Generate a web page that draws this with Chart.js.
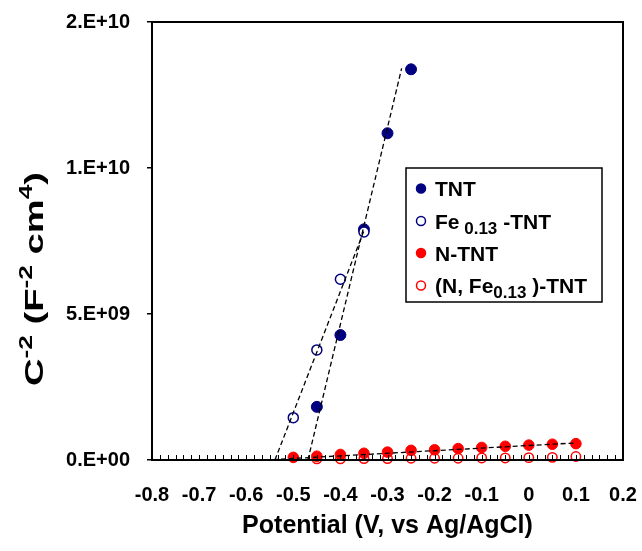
<!DOCTYPE html>
<html>
<head>
<meta charset="utf-8">
<script src="https://cdn.jsdelivr.net/npm/chart.js@4"></script>
<style>
  body { margin: 0; background: #fff; }
  #wrap { width: 642px; height: 551px; }
</style>
</head>
<body>
<div id="wrap"><canvas id="mottSchottky" width="642" height="551"></canvas></div>
<script>
// Mott-Schottky plot: C^-2 against potential for the four TNT samples

const FONT = "'Liberation Sans', Arial, sans-serif";
const NAVY = "#000080";
const RED = "#ff0000";

// TNT (filled navy)
const tntV = [-0.45, -0.40, -0.35, -0.30, -0.25];
const tntC = [1.82e9, 4.28e9, 7.90e9, 11.19e9, 13.38e9];
// Fe0.13-TNT (open navy)
const feV = [-0.50, -0.45, -0.40, -0.35];
const feC = [1.45e9, 3.77e9, 6.19e9, 7.81e9];
// N-TNT (filled red)
const nV = [-0.50, -0.45, -0.40, -0.35, -0.30, -0.25, -0.20, -0.15, -0.10, -0.05, 0.00, 0.05, 0.10];
const nC = [0.09e9, 0.13e9, 0.19e9, 0.23e9, 0.27e9, 0.33e9, 0.35e9, 0.39e9, 0.43e9, 0.47e9, 0.51e9, 0.54e9, 0.56e9];
// (N, Fe0.13)-TNT (open red)
const nFeV = [-0.45, -0.40, -0.35, -0.30, -0.25, -0.20, -0.15, -0.10, -0.05, 0.00, 0.05, 0.10];
const nFeC = [0.04e9, 0.04e9, 0.05e9, 0.05e9, 0.06e9, 0.06e9, 0.06e9, 0.07e9, 0.07e9, 0.08e9, 0.09e9, 0.12e9];

// dashed fit lines (end points)
const tntFitV = [-0.469, -0.270];
const tntFitC = [0, 13.41e9];
const feFitV = [-0.539, -0.350];
const feFitC = [0, 7.85e9];
const nFitV = [-0.560, 0.100];
const nFitC = [0, 0.585e9];

// legend text, [text, isSubscript]
const legendLabels = [
  [["TNT", 0]],
  [["Fe", 0], [" 0.13", 1], [" -TNT", 0]],
  [["N-TNT", 0]],
  [["(N, Fe", 0], ["0.13", 1], [" )-TNT", 0]]
];
// y title, [text, isSuperscript]
const yTitleParts = [["C", 0], ["-2", 1], [" (F", 0], ["-2", 1], [" cm", 0], ["4", 1], [")", 0]];

function pts(xs, ys) {
  return xs.map((x, i) => ({x: x, y: ys[i]}));
}

// Excel style "0.E+00"
function excelSci(v) {
  if (v === 0) return "0.E+00";
  let e = Math.floor(Math.log10(Math.abs(v)) + 1e-9);
  let m = Math.round(v / Math.pow(10, e));
  if (m >= 10) { m = m / 10; e += 1; }
  return m + ".E+" + String(e).padStart(2, "0");
}

function fitLine(xs, ys) {
  return {
    data: pts(xs, ys), showLine: true, pointRadius: 0,
    borderColor: "#000", borderWidth: 1.3, borderDash: [5, 3],
    order: 0, clip: false
  };
}

const datasets = [
  {label: "TNT", data: pts(tntV, tntC), pointRadius: 5.5, borderWidth: 1,
   backgroundColor: NAVY, borderColor: NAVY, order: 3, clip: false},
  {label: "Fe-TNT", data: pts(feV, feC), pointRadius: 5, borderWidth: 1.5,
   backgroundColor: "#fff", borderColor: NAVY, order: 2, clip: false},
  {label: "N-TNT", data: pts(nV, nC), pointRadius: 5.3, borderWidth: 1,
   backgroundColor: RED, borderColor: RED, order: 1, clip: false},
  {label: "NFe-TNT", data: pts(nFeV, nFeC), pointRadius: 4.7, borderWidth: 1.5,
   backgroundColor: "#fff", borderColor: RED, order: 4, clip: false},
  fitLine(tntFitV, tntFitC),
  fitLine(feFitV, feFitC),
  fitLine(nFitV, nFitC)
];

// box round the plot and small ticks along the x axis
const framePlugin = {
  id: "frame",
  afterDatasetsDraw(chart) {
    const ctx = chart.ctx, a = chart.chartArea, xs = chart.scales.x;
    ctx.save();
    ctx.strokeStyle = "#000";
    ctx.lineWidth = 1;
    for (let k = 0; k <= 60; k++) {
      const px = Math.round(xs.getPixelForValue(-0.8 + k / 60)) + 0.5;
      ctx.beginPath();
      ctx.moveTo(px, a.bottom);
      ctx.lineTo(px, a.bottom - 5);
      ctx.stroke();
    }
    ctx.lineWidth = 2;
    ctx.strokeRect(a.left, a.top, a.right - a.left, a.bottom - a.top);
    ctx.restore();
  }
};

function drawParts(ctx, parts, x, y, big, small, shift) {
  parts.forEach(p => {
    ctx.font = "bold " + (p[1] ? small : big) + "px " + FONT;
    ctx.fillText(p[0], x, y + (p[1] ? shift : 0));
    x += ctx.measureText(p[0]).width;
  });
  return x;
}

const legendPlugin = {
  id: "customLegend",
  afterDraw(chart) {
    const ctx = chart.ctx;
    ctx.save();
    ctx.fillStyle = "#fff";
    ctx.fillRect(406, 168, 196, 134);
    ctx.strokeStyle = "#000";
    ctx.lineWidth = 1.5;
    ctx.strokeRect(406, 168, 196, 134);
    const base = [196, 228.5, 260.5, 293];
    legendLabels.forEach((parts, i) => {
      const ds = chart.data.datasets[i];
      ctx.beginPath();
      ctx.arc(421, base[i] - 7.5, 4.5, 0, Math.PI * 2);
      ctx.fillStyle = ds.backgroundColor;
      ctx.fill();
      ctx.lineWidth = 1.5;
      ctx.strokeStyle = ds.borderColor;
      ctx.stroke();
      ctx.fillStyle = "#000";
      ctx.textBaseline = "alphabetic";
      drawParts(ctx, parts, 435, base[i], 21, 17, 5);
    });
    ctx.restore();
  }
};

// rotated y title with superscripts, stretched along its length like the original
const yTitlePlugin = {
  id: "yTitle",
  afterDraw(chart) {
    const ctx = chart.ctx;
    ctx.save();
    let w = 0;
    yTitleParts.forEach(p => {
      ctx.font = "bold " + (p[1] ? 18 : 26) + "px " + FONT;
      w += ctx.measureText(p[0]).width;
    });
    ctx.translate(43, 279);
    ctx.rotate(-Math.PI / 2);
    ctx.scale(214 / w, 1);
    ctx.fillStyle = "#000";
    ctx.textBaseline = "alphabetic";
    drawParts(ctx, yTitleParts, -w / 2, 0, 26, 18, -11);
    ctx.restore();
  }
};

new Chart(document.getElementById("mottSchottky"), {
  type: "scatter",
  data: {datasets: datasets},
  options: {
    responsive: false,
    animation: false,
    devicePixelRatio: 1,
    layout: {padding: {left: 0, right: 19, top: 22, bottom: 0}},
    plugins: {legend: {display: false}, tooltip: {enabled: false}},
    scales: {
      x: {
        type: "linear", min: -0.8, max: 0.2,
        grid: {display: false, drawTicks: false},
        border: {display: false},
        ticks: {
          stepSize: 0.1, padding: 23, color: "#000", maxRotation: 0, autoSkip: false,
          font: {family: FONT, size: 20, weight: "bold"},
          callback: v => { const r = Math.round(v * 10) / 10; return r === 0 ? "0" : String(r); }
        },
        title: {
          display: true, text: "Potential (V, vs Ag/AgCl)", color: "#000",
          font: {family: FONT, size: 25, weight: "bold"}, padding: {top: 0, bottom: 10}
        },
        afterFit: s => { s.height = 91; s.paddingLeft = 0; s.paddingRight = 0; }
      },
      y: {
        min: 0, max: 1.5e10,
        grid: {drawOnChartArea: false, drawTicks: true, tickLength: 5, color: "#000", lineWidth: 1.5},
        border: {display: false},
        ticks: {
          stepSize: 5e9, padding: 17, color: "#000",
          font: {family: FONT, size: 20, weight: "bold"},
          callback: v => excelSci(v)
        },
        afterFit: s => { s.width = 152; s.paddingTop = 0; s.paddingBottom = 0; }
      }
    }
  },
  plugins: [framePlugin, legendPlugin, yTitlePlugin]
});
</script>
</body>
</html>
